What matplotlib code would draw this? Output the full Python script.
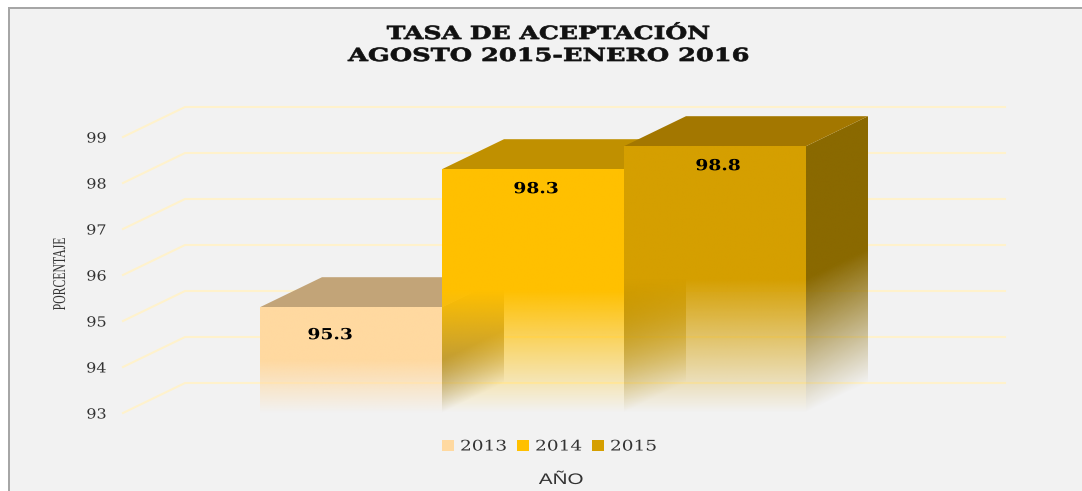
import numpy as np
import matplotlib
matplotlib.use("Agg")
import matplotlib.pyplot as plt
from matplotlib.patches import Patch, Polygon, Rectangle
from matplotlib.colors import to_rgb
from matplotlib.patheffects import AbstractPathEffect
from matplotlib.transforms import Affine2D

# ---- data ----
years = ["2013", "2014", "2015"]
values = [95.3, 98.3, 98.8]
y_ticks = [93, 94, 95, 96, 97, 98, 99]
title_lines = ["TASA DE ACEPTACIÓN", "AGOSTO 2015-ENERO 2016"]
x_title = "AÑO"
y_title = "PORCENTAJE"

# ---- styles ----
front_colors = ["#ffd9a0", "#ffc000", "#d59f00"]
top_colors = ["#c2a478", "#c09000", "#a37700"]
side_colors = ["#96845a", "#a07c00", "#8a6900"]
bg = "#f2f2f2"
grid_c = "#fff2cc"
W, H = 1082, 491


class Stretch(AbstractPathEffect):
    """Widen a text along its own baseline (the reference's text is stretched)."""

    def __init__(self, sx, anchor=0.5, bold=0.0):
        super().__init__()
        self.sx, self.anchor, self.bold = sx, anchor, bold

    def draw_path(self, renderer, gc, tpath, affine, rgbFace=None):
        w = tpath.get_extents().x1 * self.anchor
        local = Affine2D().translate(-w, 0).scale(self.sx, 1).translate(w, 0)
        if self.bold:
            gc0 = renderer.new_gc()
            gc0.copy_properties(gc)
            gc0.set_linewidth(self.bold)
            gc0.set_foreground(rgbFace)
            renderer.draw_path(gc0, tpath, local + affine, rgbFace)
            gc0.restore()
        else:
            renderer.draw_path(gc, tpath, local + affine, rgbFace)


fig = plt.figure(figsize=(W / 100, H / 100), dpi=100, facecolor=bg)
# page white margin and chart frame
fig.patches.append(Rectangle((0, 0), 8 / W, 1, transform=fig.transFigure, fc="white", ec="none"))
fig.patches.append(Rectangle((0, 1 - 7 / H), 1, 7 / H, transform=fig.transFigure, fc="white", ec="none"))
fig.patches.append(Rectangle((8 / W, 0), 2.2 / W, 1 - 7 / H, transform=fig.transFigure, fc="#a6a6a6", ec="none"))
fig.patches.append(Rectangle((8 / W, 1 - 9 / H), 1 - 8 / W, 2 / H, transform=fig.transFigure, fc="#a6a6a6", ec="none"))

# plot box: the front plane of the 3D chart
left_px, right_px, bottom_px, top_px = 123, 1005, 413, 137
ax = fig.add_axes([left_px / W, 1 - bottom_px / H, (right_px - left_px) / W, (bottom_px - top_px) / H])
ax.patch.set_alpha(0)
for s in ax.spines.values():
    s.set_visible(False)

px_x = 182.0                       # pixels per category
px_y = (bottom_px - top_px) / 6.0  # pixels per unit
x0_px = 351.0                      # centre of first category
xmin, xmax = (left_px - x0_px) / px_x, (right_px - x0_px) / px_x
ymin, ymax = y_ticks[0], y_ticks[-1]
dx, dy = 62 / px_x, 30 / px_y      # depth of the 3D box
hw = 0.5

# gridlines on side wall + back wall
wall_x = [xmin, xmin + dx, xmax]
for t in y_ticks:
    ax.plot(wall_x, [t, t + dy, t + dy], color=grid_c, lw=1.5, clip_on=False, zorder=1)


def face(poly, rgb, extent, alpha_fn, z):
    n = 300
    xs = np.linspace(extent[0], extent[1], n)
    ys = np.linspace(extent[2], extent[3], n)
    X, Y = np.meshgrid(xs, ys)
    rgba = np.zeros((n, n, 4))
    rgba[..., :3] = rgb
    rgba[..., 3] = alpha_fn(X, Y)
    im = ax.imshow(rgba, origin="lower", extent=extent, aspect="auto",
                   interpolation="bilinear", zorder=z)
    im.set_clip_box(fig.bbox)
    im.set_clip_path(Polygon(poly, closed=True, transform=ax.transData))


base = ymin
for i, v in enumerate(values):
    xl, xr = i - hw, i + hw
    h = v - base
    z = 2 + i
    # side face
    side_poly = [(xr, base), (xr + dx, base + dy), (xr + dx, v + dy), (xr, v)]
    face(side_poly, to_rgb(side_colors[i]), (xr, xr + dx, base, v + dy),
         lambda X, Y, xr=xr, h=h: np.clip((Y - base - (X - xr) / dx * dy) / h / 0.5, 0, 1), z)
    # top face
    ax.add_patch(Polygon([(xl, v), (xr, v), (xr + dx, v + dy), (xl + dx, v + dy)],
                         closed=True, fc=top_colors[i], ec="none", zorder=z, clip_on=False))
    # front face
    front_poly = [(xl, base), (xr, base), (xr, v), (xl, v)]
    face(front_poly, to_rgb(front_colors[i]), (xl, xr, base, v),
         lambda X, Y, h=h: np.clip((Y - base) / h / 0.5, 0, 1), z)

ax.set_xlim(xmin, xmax)
ax.set_ylim(ymin, ymax)

# value labels
label_dx = [-21 / px_x, 3 / px_x, 3 / px_x]
label_dy = [28 / px_y, 20 / px_y, 20 / px_y]
for i, v in enumerate(values):
    ax.text(i + label_dx[i], v - label_dy[i], f"{v:.1f}", ha="center", va="center",
            family="DejaVu Serif", weight="bold", fontsize=11, color="black", zorder=10,
            path_effects=[Stretch(1.22)])

ax.set_xticks([])
ax.set_yticks(y_ticks)
ax.set_yticklabels([str(t) for t in y_ticks], family="DejaVu Serif", fontsize=10, color="#333333")
ax.tick_params(axis="y", length=0, pad=12)
for lab in ax.get_yticklabels():
    lab.set_path_effects([Stretch(1.15, anchor=1.0)])

ax.set_ylabel(y_title, family="Liberation Serif", fontsize=13, color="#333333",
              path_effects=[Stretch(0.65)])
ax.yaxis.set_label_coords((69 - left_px) / (right_px - left_px), (bottom_px - 274) / (bottom_px - top_px))
ax.set_xlabel(x_title, family="Liberation Sans", fontsize=11, color="#333333",
              path_effects=[Stretch(1.35)])
ax.xaxis.set_label_coords((561 - left_px) / (right_px - left_px), (bottom_px - 480) / (bottom_px - top_px))
ax.xaxis.label.set_va("center")

fig.text(548 / W, 1 - 34 / H, title_lines[0], ha="center", va="center",
         family="DejaVu Serif", weight="bold", fontsize=13, color="#111111",
         path_effects=[Stretch(1.39, bold=0.5)])
fig.text(548 / W, 1 - 56 / H, title_lines[1], ha="center", va="center",
         family="DejaVu Serif", weight="bold", fontsize=13, color="#111111",
         path_effects=[Stretch(1.42, bold=0.5)])

handles = [Patch(fc=c, ec="none", label=y) for c, y in zip(front_colors, years)]
leg = fig.legend(handles=handles, loc="center", bbox_to_anchor=(544.5 / W, 1 - 446.5 / H), ncol=3, frameon=False,
                 handlelength=0.82, handleheight=0.7, handletextpad=0.41, columnspacing=1.37,
                 prop={"family": "DejaVu Serif", "size": 10.5}, labelcolor="#333333")
for t in leg.get_texts():
    t.set_path_effects([Stretch(1.27, anchor=0.0)])

fig.savefig("out.png", dpi=100, facecolor=fig.get_facecolor())
